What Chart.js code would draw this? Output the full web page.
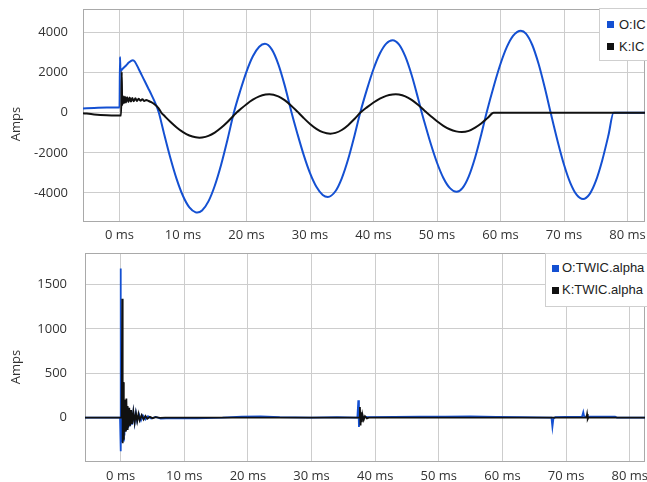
<!DOCTYPE html>
<html>
<head>
<meta charset="utf-8">
<script src="https://cdn.jsdelivr.net/npm/chart.js@4.4.0/dist/chart.umd.min.js"></script>
<style>
  body { margin: 0; background: #fff; width: 647px; height: 482px; overflow: hidden; position: relative; }
  .panel { position: absolute; left: 0; }
  .ytitle { position: absolute; font: 13px "Open Sans", sans-serif; color: #333; white-space: nowrap;
            transform: translate(-50%, -50%) rotate(-90deg); }
  .legend { position: absolute; background: #fff; border: 1px solid #cfcfcf; font: 13px "Liberation Sans", Arial, sans-serif;
            color: #222; white-space: nowrap; }
  .legend div { display: flex; align-items: center; }
  .legend span.box { display: inline-block; width: 7px; height: 7px; }
</style>
</head>
<body>
<div class="panel" style="top:0"><canvas id="chartIC" width="647" height="248"></canvas></div>
<div class="panel" style="top:248px"><canvas id="chartTWIC" width="647" height="234"></canvas></div>

<div class="ytitle" style="left:15px;top:124px">Amps</div>
<div class="ytitle" style="left:15px;top:367px">Amps</div>

<div class="legend" style="left:599px;top:8px;width:60px;padding:5px 0 3px 7px;line-height:21.5px">
  <div><span class="box" style="background:#1450d2;margin-right:5px"></span>O:IC</div>
  <div><span class="box" style="background:#111;margin-right:5px"></span>K:IC</div>
</div>
<div class="legend" style="left:545px;top:253px;width:110px;padding:3px 0 4px 6px;line-height:22.3px">
  <div><span class="box" style="background:#1450d2;margin-right:3px"></span>O:TWIC.alpha</div>
  <div><span class="box" style="background:#111;margin-right:3px"></span>K:TWIC.alpha</div>
</div>

<script>
// time axis ticks (ms)
var timeTicks = [0, 10, 20, 30, 40, 50, 60, 70, 80];
var icTicks = [-4000, -2000, 0, 2000, 4000];
var twicTicks = [0, 500, 1000, 1500];

// O:IC
var oIcTime = [-5.75, -4, -2, -0.5, 0, 0.08, 0.15, 0.5, 1, 1.5,
    2.1, 2.4, 3, 3.5, 4, 4.5, 5, 5.5, 6, 6.2,
    7, 8, 9, 10, 11, 12, 12.25, 13, 14, 15,
    16, 17, 18, 19, 20, 21, 22, 22.9, 24, 25,
    26, 27, 27.1, 28, 29, 30, 31, 32, 32.8, 34,
    35, 36, 37, 37.9, 39, 40, 41, 42, 43, 44,
    45, 46, 47, 47.6, 48, 49, 50, 51, 52, 53.1,
    54, 55, 56, 57, 57.8, 59, 60, 61, 62, 63.2,
    64, 65, 66, 67, 67.9, 69, 70, 71, 72, 73,
    74, 75, 76, 77, 77.8, 82.75];
var oIcAmps = [220, 240, 260, 260, 260, 2790, 2100, 2200, 2350, 2520,
    2625, 2560, 2200, 1880, 1560, 1240, 920, 580, 200, 0,
    -1027, -2243, -3310, -4154, -4722, -4970, -4980, -4876, -4422, -3640,
    -2590, -1345, 0, 1085, 2057, 2822, 3299, 3440, 3153, 2432,
    1381, 129, 0, -1030, -2100, -3010, -3690, -4098, -4200, -3915,
    -3271, -2322, -1147, 0, 1205, 2185, 2958, 3454, 3625, 3416,
    2812, 1885, 736, 0, -449, -1534, -2493, -3253, -3747, -3940,
    -3763, -3175, -2235, -1039, 0, 1402, 2449, 3290, 3855, 4100,
    3955, 3383, 2431, 1212, 0, -1428, -2593, -3509, -4098, -4300,
    -4072, -3414, -2391, -1113, 0, 0];

// K:IC
var kIcTime = [-5.75, -4, -2, -0.5, 0.25, 0.35, 0.42, 0.55, 0.7, 0.85,
    1.0, 1.2, 1.4, 1.6, 1.8, 2.0, 2.25, 2.5, 2.75, 3.0,
    3.3, 3.6, 3.9, 4.2, 4.6, 5.0, 5.5, 6.1, 6.6, 7.1,
    8, 9, 10, 11, 12, 12.6, 13, 14, 15, 16,
    17, 18, 18.4, 19, 20, 21, 22, 23, 23.6, 25,
    26, 27, 28, 28.2, 29, 30, 31, 32, 33.2, 34,
    35, 36, 37, 37.9, 39, 40, 41, 42, 43, 43.5,
    44, 45, 46, 47, 48, 48.4, 49, 50, 51, 52,
    53, 53.9, 55, 56, 57, 58, 58.9, 82.75];
var kIcAmps = [-20, -80, -120, -130, -130, 2040, 380, 820, 480, 800,
    520, 780, 540, 760, 560, 740, 580, 720, 590, 700,
    600, 680, 590, 640, 590, 530, 430, 250, 0, -162,
    -445, -729, -963, -1133, -1225, -1240, -1233, -1152, -987, -750,
    -459, -134, 0, 167, 430, 654, 819, 910, 925, 821,
    632, 369, 63, 0, -259, -557, -802, -967, -1040, -1004,
    -858, -617, -308, 0, 281, 514, 707, 845, 916, 925,
    913, 820, 644, 401, 119, 0, -163, -424, -649, -823,
    -928, -960, -900, -740, -520, -250, 0, 0];

// O:TWIC.alpha
var oTwicTime = [-5.6, -0.1, 0, 0.03, 0.12, 0.2, 0.3, 0.4, 0.5, 0.6,
    0.7, 0.85, 1.0, 1.15, 1.3, 1.45, 1.6, 1.8, 2.0, 2.2,
    2.4, 2.6, 2.9, 3.2, 3.5, 3.9, 4.3, 4.8, 5.5, 6.3,
    8, 12, 16, 19, 22, 25, 30, 34, 37.2, 37.35,
    37.45, 37.6, 37.8, 38.0, 39, 43, 47, 51, 55, 59,
    63, 67.7, 67.85, 68.0, 68.3, 70, 72.5, 72.7, 72.85, 75,
    77.7, 78, 82.4];
var oTwicAmps = [0, 0, 1680, -380, 450, -275, 300, -260, 200, -200,
    130, -150, 110, -120, 90, -100, 70, -80, 60, -60,
    50, -40, 35, -30, 25, -20, 15, -10, 8, -12,
    -5, -8, 0, 12, 14, 5, 0, 6, 0, 195,
    -106, 40, -20, 10, 6, 8, 10, 12, 14, 8,
    5, 0, -106, -15, 5, 8, 10, 63, 10, 12,
    10, 0, 0];

// K:TWIC.alpha
var kTwicTime = [-5.6, 0.15, 0.25, 0.32, 0.4, 0.5, 0.6, 0.7, 0.8, 0.9,
    1.0, 1.1, 1.2, 1.35, 1.5, 1.65, 1.8, 2.0, 2.2, 2.4,
    2.6, 2.8, 3.0, 3.3, 3.6, 3.9, 4.2, 4.6, 5.0, 5.5,
    6.2, 7, 37.5, 37.6, 37.7, 37.8, 37.9, 38.0, 38.2, 38.4,
    38.7, 39, 73.2, 73.3, 73.4, 73.5, 82.4];
var kTwicAmps = [0, 0, 1340, -290, 400, -250, 200, -150, 100, 215,
    -130, 130, -110, 110, -90, 85, -70, 65, -55, 50,
    -40, 40, -30, 28, -20, 18, -12, 10, -6, 5,
    -3, 0, 0, 120, -87, 60, -50, 35, -25, 15,
    -8, 0, 0, 40, -15, 0, 0];

function points(times, values) {
    return times.map(function (t, i) { return { x: t, y: values[i] }; });
}

Chart.defaults.font.family = '"Open Sans", sans-serif';
Chart.defaults.font.size = 13;
Chart.defaults.color = '#333';

// grey frame round the plot area
var framePlugin = {
    id: 'frame',
    beforeDatasetsDraw: function (chart) {
        var ctx = chart.ctx, a = chart.chartArea;
        ctx.save();
        ctx.strokeStyle = '#a9a9a9';
        ctx.lineWidth = 1;
        ctx.strokeRect(a.left + 0.5, a.top + 0.5, a.right - a.left - 1, a.bottom - a.top - 1);
        ctx.restore();
    }
};

function buildOptions(cfg) {
    return {
        responsive: false,
        animation: false,
        events: [],
        layout: { padding: { top: cfg.top, right: 2, bottom: 0, left: 0 } },
        plugins: { legend: { display: false }, tooltip: { enabled: false } },
        elements: { point: { radius: 0 } },
        scales: {
            x: {
                type: 'linear',
                min: cfg.xMin,
                max: cfg.xMax,
                border: { display: false },
                grid: { color: '#cdcdcd', drawTicks: false },
                ticks: { padding: cfg.xPad, autoSkip: false, maxRotation: 0, callback: function (v) { return v + ' ms'; } },
                afterBuildTicks: function (s) { s.ticks = timeTicks.map(function (v) { return { value: v }; }); },
                afterFit: function (s) { s.height = cfg.xHeight; s.paddingLeft = 0; s.paddingRight = 0; }
            },
            y: {
                min: cfg.yMin,
                max: cfg.yMax,
                border: { display: false },
                grid: { color: '#cdcdcd', drawTicks: false },
                ticks: { padding: cfg.yPad, callback: function (v) { return String(v); } },
                afterBuildTicks: function (s) { s.ticks = cfg.yTicks.map(function (v) { return { value: v }; }); },
                afterFit: function (s) { s.width = cfg.yWidth; s.paddingTop = 0; s.paddingBottom = 0; }
            }
        }
    };
}

new Chart(document.getElementById('chartIC').getContext('2d'), {
    type: 'line',
    data: {
        datasets: [
            { label: 'O:IC', data: points(oIcTime, oIcAmps), borderColor: '#1450d2', borderWidth: 2,
              cubicInterpolationMode: 'monotone', order: 1 },
            { label: 'K:IC', data: points(kIcTime, kIcAmps), borderColor: '#111', borderWidth: 2,
              cubicInterpolationMode: 'monotone', order: 0 }
        ]
    },
    options: buildOptions({ top: 9, xMin: -5.75, xMax: 82.75, yMin: -5450, yMax: 5180, yTicks: icTicks,
                            xPad: 5, xHeight: 26, yPad: 15, yWidth: 83 }),
    plugins: [framePlugin]
});

new Chart(document.getElementById('chartTWIC').getContext('2d'), {
    type: 'line',
    data: {
        datasets: [
            { label: 'O:TWIC.alpha', data: points(oTwicTime, oTwicAmps), borderColor: '#1450d2', borderWidth: 1.8, order: 1 },
            { label: 'K:TWIC.alpha', data: points(kTwicTime, kTwicAmps), borderColor: '#111', borderWidth: 1.8, order: 0 }
        ]
    },
    options: buildOptions({ top: 5, xMin: -5.6, xMax: 82.4, yMin: -500, yMax: 1855, yTicks: twicTicks,
                            xPad: 6, xHeight: 20, yPad: 18, yWidth: 85 }),
    plugins: [framePlugin]
});
</script>
</body>
</html>
